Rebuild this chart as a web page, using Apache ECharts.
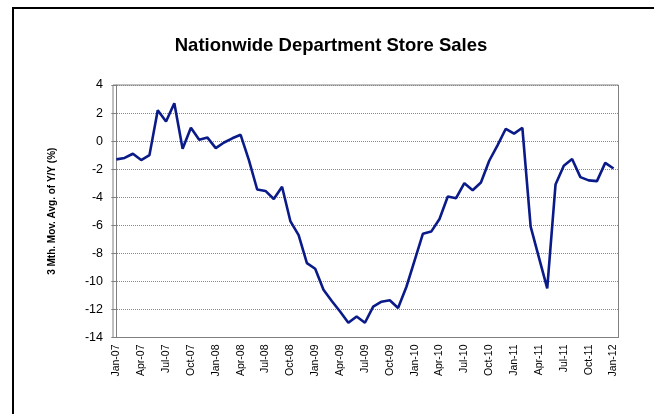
<!DOCTYPE html>
<html>
<head>
<meta charset="utf-8">
<script src="https://cdn.jsdelivr.net/npm/echarts@6/dist/echarts.min.js"></script>
<style>html,body{margin:0;padding:0;background:#fff;}#c{width:654px;height:414px;}</style>
</head>
<body>
<div id="c"></div>
<script>
var months = ['Jan-07','Feb-07','Mar-07','Apr-07','May-07','Jun-07','Jul-07','Aug-07','Sep-07','Oct-07','Nov-07','Dec-07',
'Jan-08','Feb-08','Mar-08','Apr-08','May-08','Jun-08','Jul-08','Aug-08','Sep-08','Oct-08','Nov-08','Dec-08',
'Jan-09','Feb-09','Mar-09','Apr-09','May-09','Jun-09','Jul-09','Aug-09','Sep-09','Oct-09','Nov-09','Dec-09',
'Jan-10','Feb-10','Mar-10','Apr-10','May-10','Jun-10','Jul-10','Aug-10','Sep-10','Oct-10','Nov-10','Dec-10',
'Jan-11','Feb-11','Mar-11','Apr-11','May-11','Jun-11','Jul-11','Aug-11','Sep-11','Oct-11','Nov-11','Dec-11',
'Jan-12'];
var salesYoY = [-1.3,-1.2,-0.9,-1.35,-1.0,2.2,1.4,2.7,-0.55,0.95,0.1,0.25,
-0.5,-0.1,0.2,0.45,-1.35,-3.45,-3.55,-4.13,-3.25,-5.7,-6.7,-8.7,
-9.1,-10.6,-11.4,-12.15,-12.95,-12.5,-12.95,-11.8,-11.45,-11.35,-11.9,-10.4,
-8.5,-6.6,-6.45,-5.55,-3.95,-4.07,-3.0,-3.5,-2.95,-1.4,-0.3,0.88,
0.53,0.95,-6.1,-8.3,-10.5,-3.1,-1.75,-1.27,-2.57,-2.8,-2.85,-1.55,
-1.95];
var tickLabels = ['Jan-07','Apr-07','Jul-07','Oct-07','Jan-08','Apr-08','Jul-08','Oct-08','Jan-09','Apr-09','Jul-09','Oct-09',
'Jan-10','Apr-10','Jul-10','Oct-10','Jan-11','Apr-11','Jul-11','Oct-11','Jan-12'];

var tickIdx = tickLabels.map(function(l){ return months.indexOf(l); });
var seriesData = salesYoY.map(function(v, i){ return [i, v]; });

var chart = echarts.init(document.getElementById('c'), null, {renderer:'canvas'});
chart.setOption({
  animation: false,
  backgroundColor: '#fff',
  title: {
    text: 'Nationwide Department Store Sales',
    left: 326, top: 31, textAlign: 'center',
    textStyle: {fontFamily: 'Liberation Sans, Arial, sans-serif', fontSize: 18.5, fontWeight: 'bold', color: '#000'}
  },
  graphic: [{
    type: 'rect', silent: true,
    shape: {x: 13, y: 8, width: 700, height: 500},
    style: {fill: 'none', stroke: '#000', lineWidth: 2}
  }],
  grid: {left: 113, right: 35.5, top: 85, bottom: 76.5, show: true, borderColor: '#808080', borderWidth: 1, backgroundColor: 'transparent'},
  xAxis: {
    type: 'value', min: -0.4, max: 60.6,
    axisLine: {show: true, onZero: false, lineStyle: {color: '#808080', width: 1}},
    axisTick: {show: false},
    splitLine: {show: false},
    axisLabel: {
      customValues: tickIdx, rotate: 90, margin: 7,
      fontFamily: 'Liberation Sans, Arial, sans-serif', fontSize: 10.5, color: '#000',
      formatter: function(v){ var i = Math.round(v); return months[i] || ''; }
    }
  },
  yAxis: {
    type: 'value', min: -14, max: 4, interval: 2,
    name: '3 Mth. Mov. Avg. of Y/Y (%)', nameLocation: 'middle', nameGap: 56, nameRotate: 90,
    nameTextStyle: {fontFamily: 'Liberation Sans, Arial, sans-serif', fontSize: 10, fontWeight: 'bold', color: '#000'},
    axisLine: {show: true, lineStyle: {color: '#808080', width: 1}},
    axisTick: {show: true, inside: false, length: 5, lineStyle: {color: '#808080'}},
    splitLine: {show: true, lineStyle: {color: '#888', type: [1, 1], width: 1}},
    axisLabel: {margin: 10, fontFamily: 'Liberation Sans, Arial, sans-serif', fontSize: 12.5, color: '#000'}
  },
  series: [{
    type: 'line', data: seriesData, symbol: 'none', smooth: false,
    lineStyle: {color: '#0a1a88', width: 2.6}
  }]
});
</script>
</body>
</html>
